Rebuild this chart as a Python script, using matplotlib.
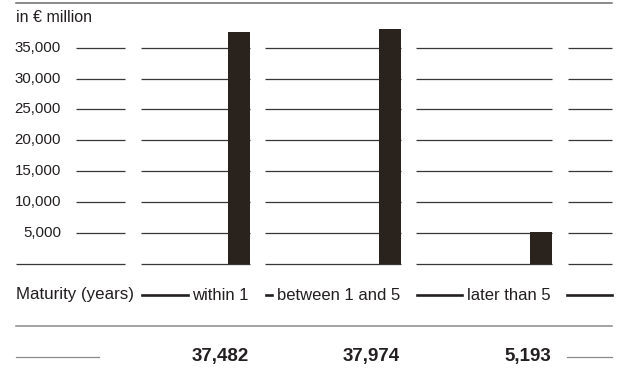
import matplotlib.pyplot as plt
from matplotlib.lines import Line2D

plt.rcParams['font.family'] = ['Liberation Sans', 'DejaVu Sans']

# data
categories = ['within 1', 'between 1 and 5', 'later than 5']
values = [37482, 37974, 5193]
value_labels = ['37,482', '37,974', '5,193']
ticks = [5000, 10000, 15000, 20000, 25000, 30000, 35000]
tick_labels = ['5,000', '10,000', '15,000', '20,000', '25,000', '30,000', '35,000']
row_title = 'Maturity (years)'
unit = 'in € million'

TXT = '#231f20'
BAR = '#2a221c'
GRID = '#3a3633'
W, H = 617, 386

fig = plt.figure(figsize=(W / 100, H / 100), dpi=100)


def fx(x):
    return x / W


def fy(y):
    return 1 - y / H


# column layout in pixels (left, right)
cols = [(16, 125), (141, 250), (265, 401), (416, 552), (568, 612)]
base_y = 263.7
ymax = 40000
ax_h = 30.86 / 5000 * ymax
ax = fig.add_axes([0, fy(base_y), 1, ax_h / H])
ax.set_xlim(0, W)
ax.set_ylim(0, ymax)
ax.axis('off')

# grid segments per column
for t in [0] + ticks:
    for i, (l, r) in enumerate(cols):
        x0 = l
        if i == 0 and t != 0:
            x0 = 76
        ax.hlines(t, x0, r, color=GRID, lw=0.9, zorder=1, clip_on=False)

for t, lab in zip(ticks, tick_labels):
    ax.text(61, t, lab, ha='right', va='center', fontsize=10.8, color=TXT)

# bars at the right edge of each column
bar_w = 22
for (l, r), v in zip(cols[1:4], values):
    ax.bar(r - bar_w / 2, v, width=bar_w, color=BAR, zorder=2, clip_on=False)

# header
fig.add_artist(Line2D([fx(16), fx(612)], [fy(3), fy(3)], color='#6e6b69', lw=1.1))
fig.text(fx(16), fy(18), unit, ha='left', va='center', fontsize=11.5, color=TXT)

# category row
cat_y = 295
fig.text(fx(16), fy(cat_y), row_title, ha='left', va='center', fontsize=12.2, color=TXT)
fig.canvas.draw()
rend = fig.canvas.get_renderer()
for (l, r), c in zip(cols[1:4], categories):
    t = fig.text(fx(r - 1), fy(cat_y), c, ha='right', va='center', fontsize=12, color=TXT)
    ext = t.get_window_extent(renderer=rend)
    x_end = max(ext.x0 - 5, l + 6)
    fig.add_artist(Line2D([fx(l + 1), fx(x_end)], [fy(cat_y), fy(cat_y)],
                          color=TXT, lw=1.9))
l, r = cols[4]
fig.add_artist(Line2D([fx(l - 1), fx(r)], [fy(cat_y), fy(cat_y)], color=TXT, lw=1.9))

# separator
fig.add_artist(Line2D([fx(16), fx(612)], [fy(326), fy(326)], color='#8c8a88', lw=1.1))

# totals row
val_y = 357
for (l, r), s in zip(cols[1:4], value_labels):
    fig.text(fx(r - 1), fy(val_y), s, ha='right', va='center', fontsize=13.5,
             fontweight='bold', color=TXT)
fig.add_artist(Line2D([fx(16), fx(99)], [fy(val_y), fy(val_y)], color='#8c8a88', lw=0.9))
fig.add_artist(Line2D([fx(567), fx(612)], [fy(val_y), fy(val_y)], color='#8c8a88', lw=0.9))

fig.savefig('out.png', dpi=100)
